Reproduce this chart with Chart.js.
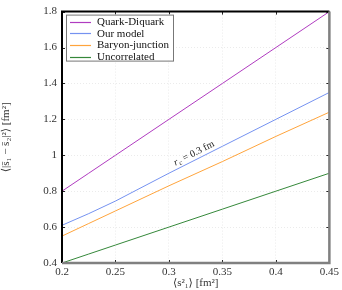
<!DOCTYPE html>
<html>
<head>
<meta charset="utf-8">
<script src="https://cdn.jsdelivr.net/npm/chart.js@4/dist/chart.umd.min.js"></script>
<style>
  html, body { margin: 0; padding: 0; background: #fff; }
  #wrap { width: 342px; height: 290px; }
</style>
</head>
<body>
<div id="wrap"><canvas id="chart" width="342" height="290"></canvas></div>
<script>
// values
var xVals = [0.2, 0.225, 0.25, 0.3, 0.35, 0.4, 0.45];
var quarkDiquark = [0.8, 0.9, 1.0, 1.2, 1.4, 1.6, 1.8];
var ourModel = [0.61, 0.675, 0.745, 0.9, 1.05, 1.2, 1.35];
var baryonJunction = [0.55, 0.62, 0.69, 0.83, 0.965, 1.105, 1.24];
var uncorrelated = [0.4, 0.45, 0.5, 0.6, 0.7, 0.8, 0.9];

var seriesNames = ['Quark-Diquark', 'Our model', 'Baryon-junction', 'Uncorrelated'];
var seriesColors = ['#b03cc0', '#7592f0', '#ffa43c', '#35883a'];

var xTicks = [0.2, 0.25, 0.3, 0.35, 0.4, 0.45];
var yTicks = [0.4, 0.6, 0.8, 1, 1.2, 1.4, 1.6, 1.8];

var FONT = '"Liberation Serif", "DejaVu Serif", serif';

function pts(ys) {
  return xVals.map(function(x, i) { return { x: x, y: ys[i] }; });
}

function fmt(v) {
  return String(parseFloat(v.toFixed(3)));
}

// frame, inward ticks, legend box and the r_c label
var decor = {
  id: 'decor',
  afterDraw: function(chart) {
    var ctx = chart.ctx;
    var a = chart.chartArea;
    var xs = chart.scales.x, ys = chart.scales.y;
    ctx.save();

    // ticks pointing in
    ctx.strokeStyle = '#222';
    ctx.lineWidth = 1;
    xTicks.forEach(function(t) {
      var px = Math.round(xs.getPixelForValue(t)) + 0.5;
      ctx.beginPath();
      ctx.moveTo(px, a.bottom); ctx.lineTo(px, a.bottom - 3);
      ctx.moveTo(px, a.top); ctx.lineTo(px, a.top + 3);
      ctx.stroke();
    });
    yTicks.forEach(function(t) {
      var py = Math.round(ys.getPixelForValue(t)) + 0.5;
      ctx.beginPath();
      ctx.moveTo(a.left, py); ctx.lineTo(a.left + 3, py);
      ctx.moveTo(a.right, py); ctx.lineTo(a.right - 3, py);
      ctx.stroke();
    });

    // frame: dark top/left, grey bottom/right
    ctx.lineWidth = 2;
    ctx.strokeStyle = '#000';
    ctx.beginPath();
    ctx.moveTo(a.left, a.bottom); ctx.lineTo(a.left, a.top); ctx.lineTo(a.right, a.top);
    ctx.stroke();
    ctx.strokeStyle = '#808080';
    ctx.lineWidth = 2.5;
    ctx.beginPath();
    ctx.moveTo(a.left, a.bottom); ctx.lineTo(a.right, a.bottom); ctx.lineTo(a.right, a.top);
    ctx.stroke();

    // legend
    var lx = a.left + 4, ly = a.top + 3, lw = 107, lh = 46;
    ctx.fillStyle = '#fff';
    ctx.fillRect(lx, ly, lw, lh);
    ctx.strokeStyle = '#777';
    ctx.lineWidth = 1;
    ctx.strokeRect(lx + 0.5, ly + 0.5, lw, lh);
    ctx.font = '11px ' + FONT;
    ctx.textBaseline = 'middle';
    ctx.textAlign = 'left';
    chart.data.datasets.forEach(function(ds, i) {
      var yy = ly + 7 + i * 11.7;
      ctx.strokeStyle = ds.borderColor;
      ctx.lineWidth = 1.2;
      ctx.beginPath();
      ctx.moveTo(lx + 4, Math.round(yy) + 0.5); ctx.lineTo(lx + 25, Math.round(yy) + 0.5);
      ctx.stroke();
      ctx.fillStyle = '#111';
      ctx.fillText(ds.label, lx + 31, yy + 0.5);
    });

    // r_c label along the blue line
    var p0x = xs.getPixelForValue(0.25), p0y = ys.getPixelForValue(0.745);
    var p1x = xs.getPixelForValue(0.45), p1y = ys.getPixelForValue(1.35);
    var ang = Math.atan2(p1y - p0y, p1x - p0x);
    ctx.translate(xs.getPixelForValue(0.32), ys.getPixelForValue(1.0));
    ctx.rotate(ang);
    ctx.fillStyle = '#222';
    ctx.textAlign = 'center';
    ctx.textBaseline = 'middle';
    ctx.font = 'italic 10px ' + FONT;
    ctx.fillText('r', -16, 0);
    ctx.font = 'italic 7px ' + FONT;
    ctx.fillText('c', -12, 2.5);
    ctx.font = '10px ' + FONT;
    ctx.textAlign = 'left';
    ctx.fillText('= 0.3 fm', -8, 0);

    ctx.restore();
  }
};

var datasets = [quarkDiquark, ourModel, baryonJunction, uncorrelated].map(function(ys, i) {
  return {
    label: seriesNames[i],
    data: pts(ys),
    borderColor: seriesColors[i],
    backgroundColor: seriesColors[i],
    borderWidth: 1,
    pointRadius: 0,
    tension: 0,
    fill: false
  };
});

new Chart(document.getElementById('chart').getContext('2d'), {
  type: 'line',
  data: { datasets: datasets },
  options: {
    responsive: false,
    animation: false,
    devicePixelRatio: 1,
    layout: { padding: { top: 5, right: 10, left: 0, bottom: 0 } },
    plugins: {
      legend: { display: false },
      tooltip: { enabled: false }
    },
    scales: {
      x: {
        type: 'linear',
        min: 0.2,
        max: 0.45,
        afterFit: function(s) { s.height = 27; },
        afterBuildTicks: function(s) { s.ticks = xTicks.map(function(v) { return { value: v }; }); },
        grid: { color: '#ebebeb', drawTicks: false, lineWidth: 1 },
        border: { display: false, dash: [1, 2] },
        ticks: {
          color: '#333',
          padding: 3,
          maxRotation: 0,
          font: { family: FONT, size: 11 },
          callback: function(v) { return fmt(v); }
        },
        title: {
          display: true,
          text: '⟨s²₁⟩ [fm²]',
          color: '#333',
          padding: { top: 0, bottom: 0 },
          font: { family: FONT, size: 11 }
        }
      },
      y: {
        type: 'linear',
        min: 0.4,
        max: 1.8,
        afterFit: function(s) { s.width = 62; },
        afterBuildTicks: function(s) { s.ticks = yTicks.map(function(v) { return { value: v }; }); },
        grid: { color: '#ebebeb', drawTicks: false, lineWidth: 1 },
        border: { display: false, dash: [1, 2] },
        ticks: {
          color: '#333',
          padding: 5,
          font: { family: FONT, size: 11 },
          callback: function(v) { return fmt(v); }
        },
        title: {
          display: true,
          text: '⟨|s̄₁ − s̄₂|²⟩ [fm²]',
          color: '#333',
          padding: { top: 0, bottom: 6 },
          font: { family: FONT, size: 11 }
        }
      }
    }
  },
  plugins: [decor]
});
</script>
</body>
</html>
